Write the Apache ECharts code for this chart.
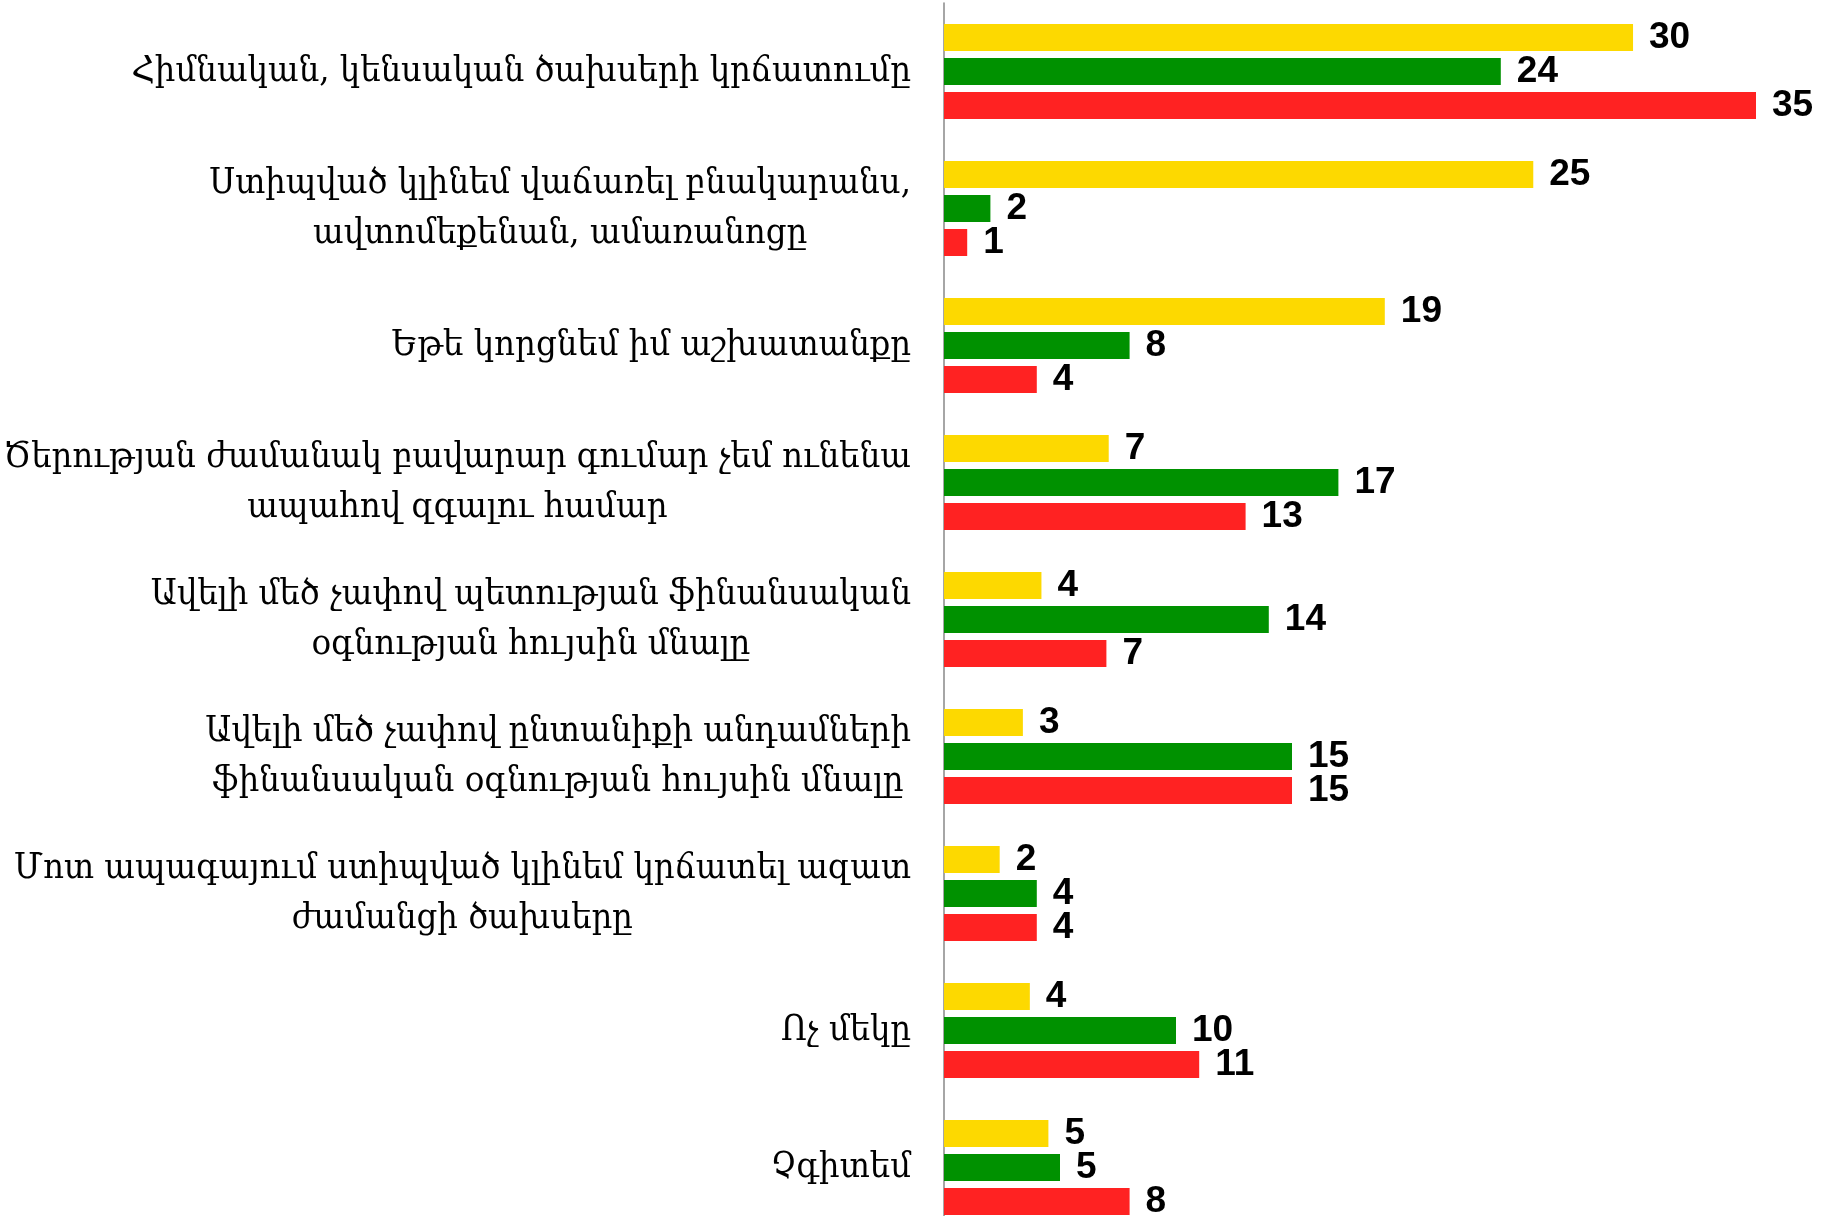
<!DOCTYPE html>
<html>
<head>
<meta charset="utf-8">
<script src="https://cdn.jsdelivr.net/npm/echarts@6/dist/echarts.min.js"></script>
<style>
  html, body { margin: 0; padding: 0; background: #fff; overflow: hidden; }
  /* chart is a bit taller than the window: the last group is cut off in the original too */
  #chart { width: 1829px; height: 1240px; }
</style>
</head>
<body>
<div id="chart"></div>
<script>
const categories = [
  'Հիմնական, կենսական ծախսերի կրճատումը',
  'Ստիպված կլինեմ վաճառել բնակարանս,\nավտոմեքենան, ամառանոցը',
  'Եթե կորցնեմ իմ աշխատանքը',
  'Ծերության ժամանակ բավարար գումար չեմ ունենա\nապահով զգալու համար',
  'Ավելի մեծ չափով պետության ֆինանսական\nօգնության հույսին մնալը',
  'Ավելի մեծ չափով ընտանիքի անդամների\nֆինանսական օգնության հույսին մնալը',
  'Մոտ ապագայում ստիպված կլինեմ կրճատել ազատ\nժամանցի ծախսերը',
  'Ոչ մեկը',
  'Չգիտեմ'
];
// yellow bars are not whole numbers in the original, labels are rounded
const yellowValues = [29.7, 25.4, 19.0, 7.1, 4.2, 3.4, 2.4, 3.7, 4.5];
const greenValues = [24, 2, 8, 17, 14, 15, 4, 10, 5];
const redValues = [35, 1, 4, 13, 7, 15, 4, 11, 8];

const chart = echarts.init(document.getElementById('chart'));

function barSeries(data, color) {
  return {
    type: 'bar',
    data: data,
    barWidth: 27,
    barGap: '26%',
    itemStyle: { color: color },
    label: {
      show: true,
      position: 'right',
      distance: 16,
      formatter: p => Math.round(p.value),
      color: '#000',
      fontFamily: 'Liberation Sans',
      fontWeight: 'bold',
      fontSize: 37
    },
    animation: false
  };
}

chart.setOption({
  backgroundColor: '#fff',
  grid: { left: 944, top: 3, width: 812, height: 1233 },
  xAxis: {
    type: 'value',
    min: 0,
    max: 35,
    show: false
  },
  yAxis: {
    type: 'category',
    inverse: true,
    data: categories,
    axisLine: { show: true, lineStyle: { color: '#888', width: 1.5 } },
    axisTick: { show: false },
    axisLabel: {
      margin: 33,
      formatter: function (v) {
        return v.split('\n').map(s => '{t|' + s + '}').join('\n');
      },
      rich: {
        t: {
          align: 'center',
          fontFamily: 'DejaVu Serif Condensed, DejaVu Serif',
          fontSize: 36,
          lineHeight: 50,
          color: '#000'
        }
      }
    }
  },
  series: [
    barSeries(yellowValues, '#FDD900'),
    barSeries(greenValues, '#009100'),
    barSeries(redValues, '#FF2222')
  ]
});
</script>
</body>
</html>
